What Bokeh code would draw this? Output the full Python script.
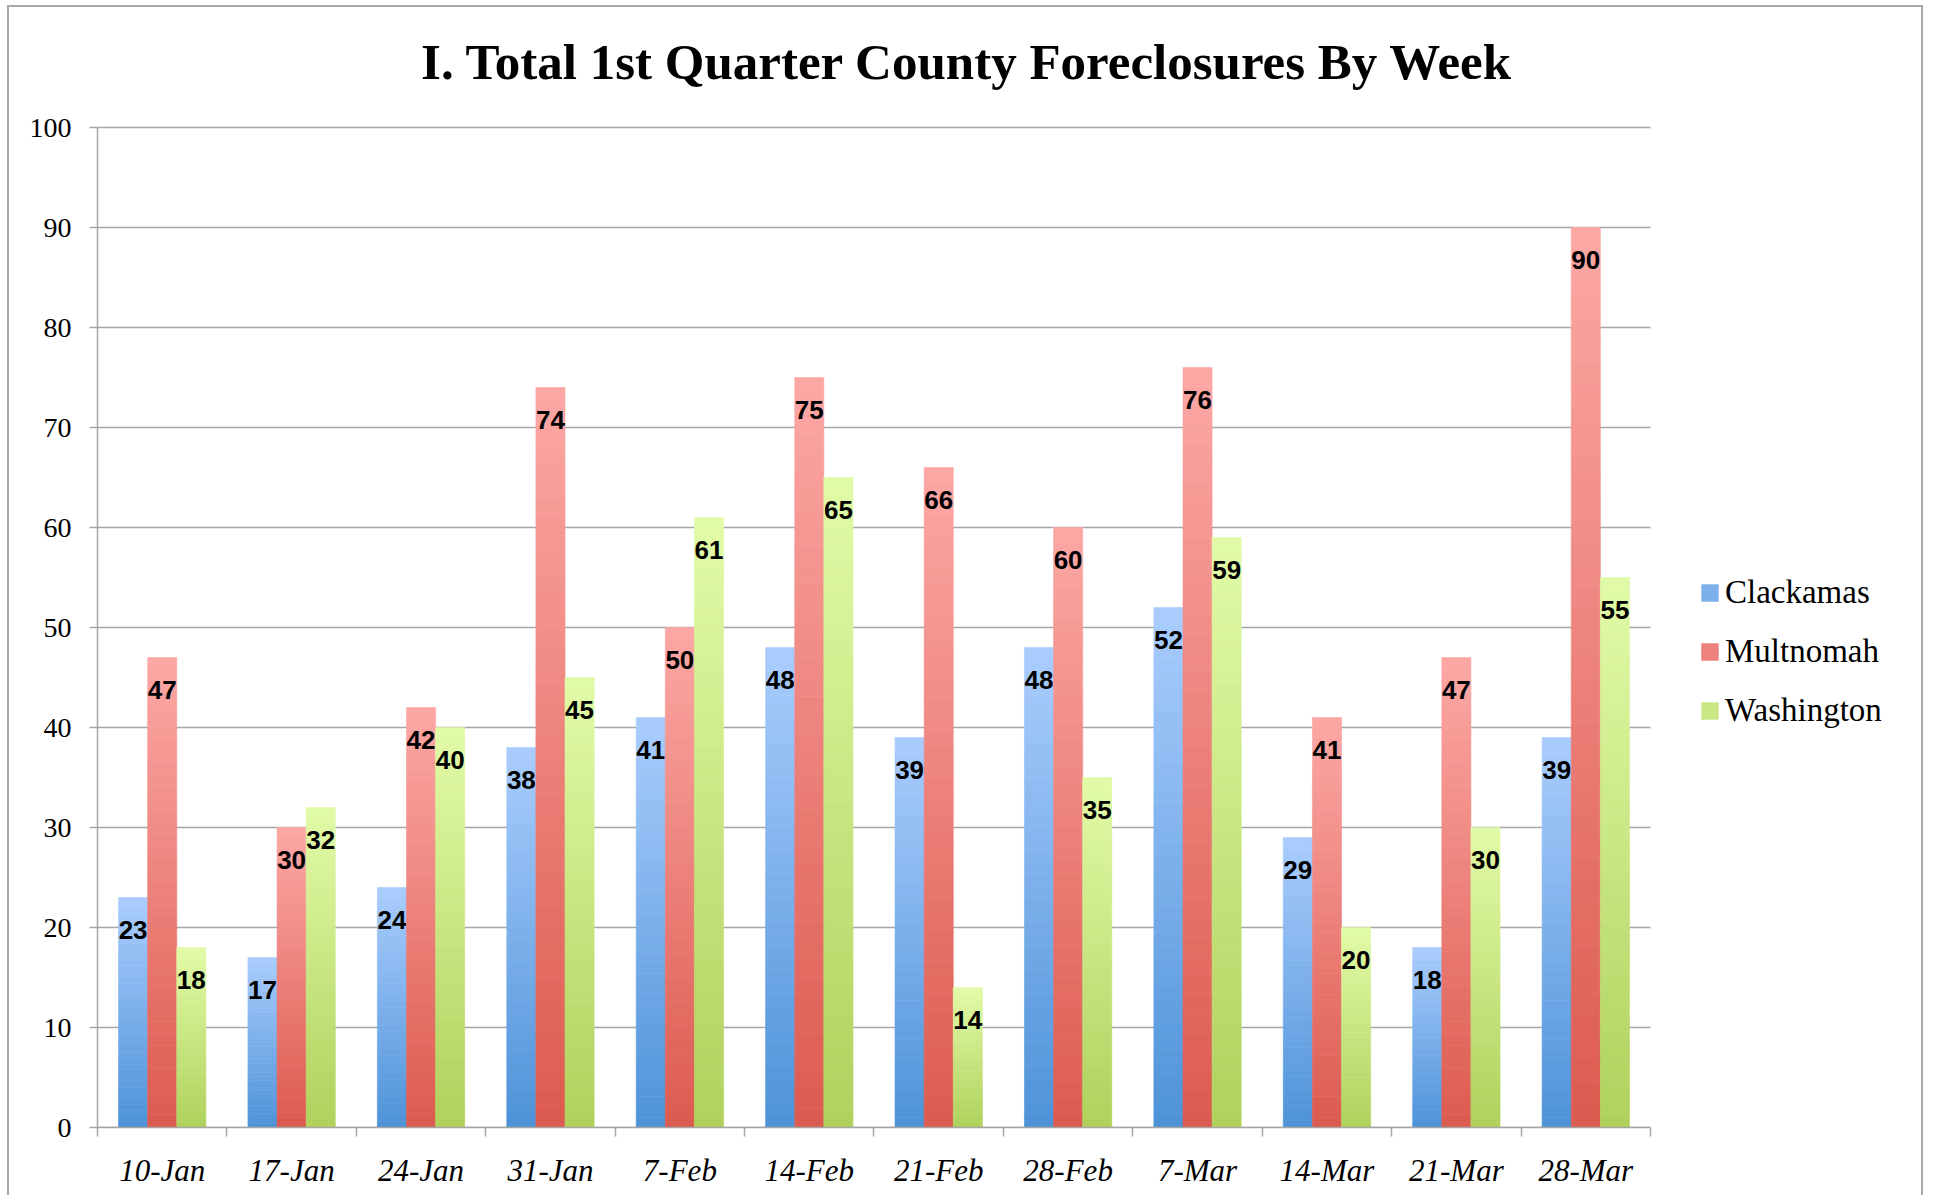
import numpy as np
from bokeh.plotting import figure
from bokeh.models import (Range1d, FixedTicker, ColumnDataSource, Legend,
                          LegendItem, Label)
from bokeh.core.properties import value
from bokeh.embed import file_html
from bokeh.resources import INLINE

# ---- data ----
weeks = ["10-Jan", "17-Jan", "24-Jan", "31-Jan", "7-Feb", "14-Feb",
         "21-Feb", "28-Feb", "7-Mar", "14-Mar", "21-Mar", "28-Mar"]
clackamas = [23, 17, 24, 38, 41, 48, 39, 48, 52, 29, 18, 39]
multnomah = [47, 30, 42, 74, 50, 75, 66, 60, 76, 41, 47, 90]
washington = [18, 32, 40, 45, 61, 65, 14, 35, 59, 20, 30, 55]
series_names = ["Clackamas", "Multnomah", "Washington"]
y_ticks = list(range(0, 101, 10))
title_text = "I. Total 1st Quarter County Foreclosures By Week"

# ---- style / layout ----
N_SEG = 40
BAR_W = 0.225
offsets = [-BAR_W, 0.0, BAR_W]
# (bottom colour, top colour)
gradients = [((77, 146, 216), (170, 205, 253)),
             ((220, 90, 79), (252, 168, 165)),
             ((175, 209, 92), (226, 251, 168))]
GRID = "#a6a6a6"
N_CAT = len(weeks)
Y_MAX = 100
X_END = N_CAT + 2.125   # room right of the bars for the legend
Y_END = 112.0           # room above the bars for the title
TITLE_X = 6.722
TITLE_Y = 106.6


def hexc(c):
    return "#%02x%02x%02x" % tuple(int(round(v)) for v in c)


p = figure(width=1916, height=1190, title=None,
           x_range=Range1d(0, X_END), y_range=Range1d(0, Y_END),
           output_backend="svg", toolbar_location=None,
           min_border_left=88, min_border_right=0,
           min_border_top=0, min_border_bottom=70)
p.styles = {"margin-left": "7px", "margin-top": "5px",
            "border-top": "2px solid #a8a8a8",
            "border-left": "2px solid #a8a8a8",
            "border-right": "2px solid #a8a8a8"}
p.outline_line_color = None
p.background_fill_color = "white"
p.border_fill_color = "white"

p.add_layout(Label(x=TITLE_X, y=TITLE_Y, text=title_text,
                   text_align="center", text_baseline="alphabetic",
                   text_font="Liberation Serif", text_font_style="bold",
                   text_font_size="51px", text_color="black"))

# horizontal grid lines, only across the category area
p.xgrid.grid_line_color = None
p.ygrid.grid_line_color = None
p.segment(x0=[0] * len(y_ticks), x1=[N_CAT] * len(y_ticks),
          y0=y_ticks, y1=y_ticks, line_color=GRID, line_width=1.5)

renderers = []
for vals, (cb, ct), off in zip([clackamas, multnomah, washington], gradients, offsets):
    xs, bottoms, tops, colors = [], [], [], []
    for i, v in enumerate(vals):
        for k in range(N_SEG):
            t = (k + 0.5) / N_SEG
            c = [cb[j] + (ct[j] - cb[j]) * t for j in range(3)]
            xs.append(i + 0.5 + off)
            bottoms.append(v * k / N_SEG)
            tops.append(v * (k + 1) / N_SEG)
            colors.append(hexc(c))
    src = ColumnDataSource(dict(x=xs, bottom=bottoms, top=tops, color=colors))
    r = p.vbar(x="x", bottom="bottom", top="top", width=BAR_W, source=src,
               fill_color="color", line_color="color", line_width=0.6)
    renderers.append(r)

    lsrc = ColumnDataSource(dict(x=[i + 0.5 + off for i in range(len(vals))],
                                 y=[v - 3.25 for v in vals],
                                 text=[str(v) for v in vals]))
    p.text(x="x", y="y", text="text", source=lsrc,
           text_align="center", text_baseline="middle",
           text_font=value("Liberation Sans"), text_font_style="bold",
           text_font_size="26px", text_color="black")

# axes
p.yaxis.bounds = (0, Y_MAX)
p.yaxis.ticker = FixedTicker(ticks=y_ticks, minor_ticks=[])
p.yaxis.axis_line_color = GRID
p.yaxis.axis_line_width = 1.5
p.yaxis.major_tick_line_color = GRID
p.yaxis.major_tick_line_width = 1.5
p.yaxis.major_tick_out = 8
p.yaxis.major_tick_in = 0
p.yaxis.minor_tick_line_color = None
p.yaxis.major_label_standoff = 18
p.yaxis.major_label_text_font = "Liberation Serif"
p.yaxis.major_label_text_font_size = "28px"
p.yaxis.major_label_text_color = "black"

centers = [i + 0.5 for i in range(N_CAT)]
bounds = [float(i) for i in range(N_CAT + 1)]
p.xaxis.bounds = (0, N_CAT)
p.xaxis.ticker = FixedTicker(ticks=centers, minor_ticks=bounds)
p.xaxis.major_label_overrides = {c: w for c, w in zip(centers, weeks)}
p.xaxis.axis_line_color = GRID
p.xaxis.axis_line_width = 1.5
p.xaxis.major_tick_line_color = None
p.xaxis.major_tick_out = 0
p.xaxis.major_tick_in = 0
p.xaxis.minor_tick_line_color = GRID
p.xaxis.minor_tick_line_width = 1.5
p.xaxis.minor_tick_out = 9
p.xaxis.minor_tick_in = 0
p.xaxis.major_label_standoff = 16
p.xaxis.major_label_text_font = "Liberation Serif"
p.xaxis.major_label_text_font_style = "italic"
p.xaxis.major_label_text_font_size = "31px"
p.xaxis.major_label_text_color = "black"

legend = Legend(items=[LegendItem(label=n, renderers=[r], index=N_SEG // 2)
                       for n, r in zip(series_names, renderers)],
                location=(1602, 398), orientation="vertical",
                glyph_width=21, glyph_height=21, label_standoff=5,
                spacing=22, padding=0, margin=0,
                border_line_color=None, background_fill_alpha=0,
                label_text_font="Liberation Serif", label_text_font_size="33px",
                label_text_color="black")
p.add_layout(legend)

open("out.html", "w").write(file_html(p, INLINE))
